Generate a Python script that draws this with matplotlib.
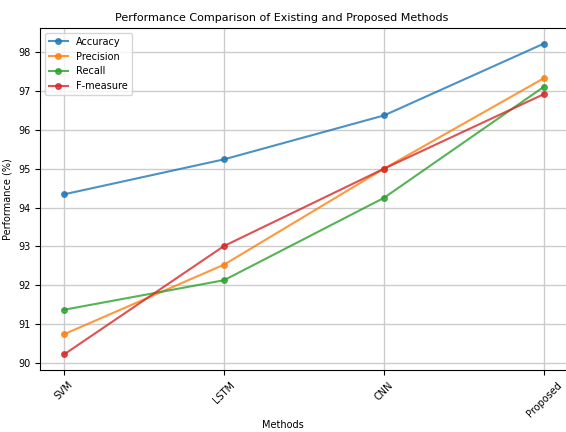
import matplotlib
matplotlib.use("Agg")
import matplotlib.pyplot as plt

methods = ["SVM", "LSTM", "CNN", "Proposed"]
accuracy = [94.34, 95.24, 96.37, 98.22]
precision = [90.74, 92.53, 95.00, 97.33]
recall = [91.37, 92.13, 94.25, 97.11]
f_measure = [90.22, 93.01, 95.00, 96.92]

fig = plt.figure(figsize=(5.66, 4.32), dpi=100)
ax = fig.add_axes([40 / 566, 1 - 370 / 432, 528 / 566, 342 / 432])

ax.plot(methods, accuracy, marker='o', markersize=4, alpha=0.8, label='Accuracy')
ax.plot(methods, precision, marker='o', markersize=4, alpha=0.8, label='Precision')
ax.plot(methods, recall, marker='o', markersize=4, alpha=0.8, label='Recall')
ax.plot(methods, f_measure, marker='o', markersize=4, alpha=0.8, label='F-measure')

# the right edge of the frame falls outside the picture in the reference
ax.spines['right'].set_visible(False)
ax.grid(True, color='#cccccc', linewidth=1.0)
ax.set_axisbelow(True)
ax.tick_params(labelsize=7)
plt.setp(ax.get_xticklabels(), rotation=45)
ax.set_xlabel("Methods", fontsize=7)
ax.xaxis.set_label_coords((283 - 40) / 528, -(420 - 370) / 342)
ax.set_ylabel("Performance (%)", fontsize=7)
fig.text(0.497, 1 - 18 / 432, "Performance Comparison of Existing and Proposed Methods",
         ha='center', va='center', fontsize=8)
ax.legend(loc='upper left', fontsize=7)

fig.savefig("out.png", dpi=100)
